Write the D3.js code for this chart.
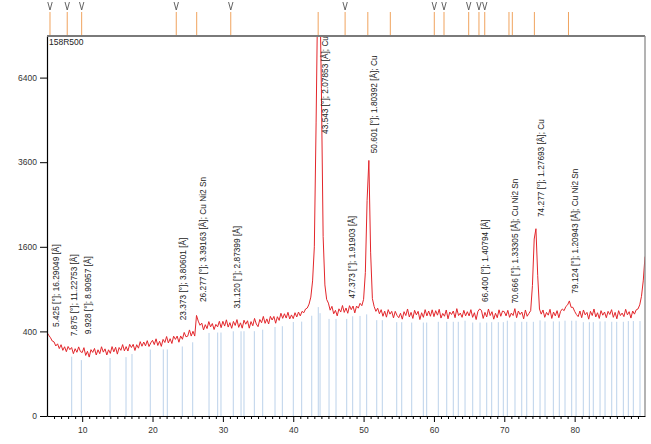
<!DOCTYPE html>
<html lang="en">
<head>
<meta charset="UTF-8">
<title>158R500</title>
<script src="https://d3js.org/d3.v7.min.js"></script>
<style>
  body { margin: 0; background: #fff; font-family: 'Liberation Sans', Arial, sans-serif; }
  svg { display: block; }
  .axis text { font-size: 8.5px; fill: #333; font-family: 'Liberation Sans', Arial, sans-serif; }
  .axis path, .axis line { stroke: #000; }
  .peak-label { font-size: 8.3px; fill: #222; }
</style>
</head>
<body>
<script>
// scan name and measured pattern (2theta from 5 to 90 deg, step 0.25)
const scanName = "158R500";
const scanStart = 5, scanStep = 0.25;
const counts = [
  390, 364, 342, 314, 307, 274, 291, 254, 284, 241, 268, 231, 270, 246, 262, 217, 253, 227, 267, 232,
  225, 261, 205, 234, 194, 246, 226, 255, 208, 245, 217, 268, 228, 252, 208, 245, 219, 269, 230, 264,
  214, 262, 241, 285, 237, 269, 236, 287, 262, 287, 240, 284, 257, 309, 272, 306, 275, 317, 270, 299,
  320, 285, 333, 278, 312, 271, 328, 302, 353, 298, 334, 294, 356, 328, 357, 304, 358, 329, 390, 351,
  356, 414, 357, 401, 357, 565, 503, 460, 482, 414, 466, 427, 498, 444, 478, 418, 469, 444, 501, 436,
  501, 452, 517, 442, 487, 430, 500, 458, 519, 439, 485, 431, 513, 471, 507, 431, 498, 455, 532, 473,
  446, 521, 486, 554, 480, 527, 473, 555, 515, 554, 481, 551, 511, 590, 533, 584, 536, 601, 526, 571,
  530, 596, 548, 604, 560, 612, 596, 640, 652, 700, 790, 1020, 1600, 4800, 10500, 11000, 6000, 1800, 960, 760,
  712, 626, 672, 584, 624, 560, 642, 604, 682, 600, 652, 590, 680, 632, 676, 594, 676, 650, 710, 680,
  760, 1150, 2600, 3650, 1500, 770, 670, 612, 650, 584, 632, 556, 614, 546, 632, 580, 612, 538, 612, 566,
  540, 590, 524, 608, 564, 640, 548, 600, 532, 624, 572, 612, 520, 596, 544, 632, 560, 616, 556, 630,
  552, 620, 568, 636, 536, 588, 556, 628, 528, 604, 576, 616, 540, 644, 564, 592, 544, 624, 560, 608,
  560, 632, 544, 596, 520, 612, 640, 624, 532, 600, 548, 640, 564, 608, 524, 590, 540, 630, 556, 616,
  608, 560, 624, 544, 592, 564, 644, 540, 616, 576, 604, 528, 628, 556, 588, 620, 950, 1750, 1960, 1100,
  640, 580, 628, 544, 600, 568, 636, 532, 604, 560, 620, 540, 612, 640, 620, 670, 690, 740, 660, 660,
  612, 576, 552, 616, 540, 628, 572, 600, 524, 612, 564, 640, 548, 596, 532, 620, 568, 604, 540, 612,
  576, 632, 544, 600, 528, 620, 564, 592, 552, 636, 572, 608, 536, 616, 580, 630, 640, 690, 800, 1020,
  1420
];

// labelled peaks
const peakPos = [5.425, 7.875, 9.928, 23.373, 26.277, 31.120, 43.543, 47.373, 50.601, 66.400, 70.666, 74.277, 79.124];
const peakD = [16.29049, 11.22753, 8.90957, 3.80601, 3.39163, 2.87399, 2.07853, 1.91903, 1.80392, 1.40794, 1.33305, 1.27693, 1.20943];
const peakPhase = ["", "", "", "", "Cu Ni2 Sn", "", "Cu", "", "Cu", "", "Cu Ni2 Sn", "Cu", "Cu Ni2 Sn"];
const peakHeight = [367, 287, 304, 430, 628, 552, 10500, 669, 3627, 628, 609, 2039, 731];

// peak list shown in the strip above the plot (flag = marked with V)
const listPos = [5.425, 7.875, 9.928, 23.373, 26.277, 31.120, 43.543, 47.373, 50.601, 53.80, 60.05, 61.43, 64.94, 66.400, 67.22, 70.666, 71.14, 74.277, 79.124];
const listFlag = [1, 1, 1, 1, 0, 1, 0, 1, 0, 0, 1, 1, 1, 1, 1, 0, 0, 0, 0];

// reference stick pattern
const sticks = [8.51, 9.88, 13.96, 16.23, 17.08, 19.68, 21.53, 22.10, 24.23, 25.71, 28.03, 29.26, 29.73,
  31.48, 32.58, 33.00, 34.47, 35.66, 37.41, 38.45, 40.01, 41.20, 42.63, 43.56, 43.81, 45.09, 46.08,
  47.60, 48.45, 49.49, 50.44, 51.87, 52.66, 54.71, 55.42, 56.84, 58.49, 58.97, 60.62, 61.82, 62.75,
  63.46, 64.42, 65.51, 66.55, 67.50, 68.21, 69.15, 69.86, 70.43, 71.52, 72.48, 73.19, 74.13, 75.08,
  75.79, 76.97, 77.82, 78.63, 79.58, 80.20, 81.23, 82.09, 82.65, 83.61, 84.32, 85.27, 85.98, 86.92,
  87.63, 88.34, 89.29];

const yTicks = [0, 400, 1600, 3600, 6400];

const W = 651, H = 444;
const margin = {top: 36, right: 6, bottom: 28, left: 47};

const svg = d3.select("body").append("svg")
  .attr("width", W).attr("height", H);

const x = d3.scaleLinear().domain([5, 90]).range([margin.left, W - margin.right]);
const y = d3.scaleSqrt().domain([0, 8070]).range([H - margin.bottom, margin.top]);

const pts = counts.map((c, i) => ({t: scanStart + i * scanStep, c: c}));

svg.append("clipPath").attr("id", "plot")
  .append("rect")
  .attr("x", margin.left).attr("y", margin.top)
  .attr("width", W - margin.left - margin.right)
  .attr("height", H - margin.top - margin.bottom);

// stick pattern, reaching up to the local background
const localMin = t => d3.min(pts.filter(p => Math.abs(p.t - t) <= 1.5), p => p.c);
svg.append("g")
  .selectAll("line")
  .data(sticks)
  .join("line")
  .attr("x1", d => x(d)).attr("x2", d => x(d))
  .attr("y1", y(0))
  .attr("y2", d => y(localMin(d)) + 3)
  .attr("stroke", "#bcd2ea")
  .attr("stroke-width", 1);

// measured curve
svg.append("path")
  .datum(pts)
  .attr("clip-path", "url(#plot)")
  .attr("fill", "none")
  .attr("stroke", "#e3262b")
  .attr("stroke-width", 1)
  .attr("d", d3.line().x(d => x(d.t)).y(d => y(d.c)));

// peak labels
const labels = svg.append("g").attr("clip-path", "url(#plot)");
peakPos.forEach((p, i) => {
  let txt = `${p.toFixed(3)} [°]; ${peakD[i].toFixed(5)} [Å]`;
  if (peakPhase[i]) txt += `; ${peakPhase[i]}`;
  const t = labels.append("text")
    .attr("class", "peak-label")
    .text(txt);
  const len = t.node().getComputedTextLength();
  const yb = Math.max(y(peakHeight[i]) - 8, margin.top + len);
  t.attr("transform", `translate(${x(p) + 9.5},${yb}) rotate(-90)`);
});

// axes
const xAxis = svg.append("g")
  .attr("class", "axis")
  .attr("transform", `translate(0,${y(0)})`)
  .call(d3.axisBottom(x).tickValues(d3.range(10, 90, 10)).tickSize(6).tickSizeOuter(0).tickPadding(5));
svg.append("g")
  .attr("class", "axis")
  .attr("transform", `translate(0,${y(0)})`)
  .call(d3.axisBottom(x).tickValues(d3.range(6, 90, 1).filter(v => v % 10)).tickSize(3).tickSizeOuter(0).tickFormat(""))
  .select(".domain").remove();

const yAxis = svg.append("g")
  .attr("class", "axis")
  .attr("transform", `translate(${margin.left},0)`)
  .call(d3.axisLeft(y).tickValues(yTicks).tickFormat(d3.format("d")).tickSize(7).tickSizeOuter(0).tickPadding(3));
yAxis.selectAll(".tick line").attr("stroke", "#777");
yAxis.select(".domain").attr("stroke-width", 1.2);
xAxis.select(".domain").attr("stroke-width", 1.2);

// frame: top and right borders
svg.append("line")
  .attr("x1", margin.left).attr("x2", W - margin.right)
  .attr("y1", margin.top).attr("y2", margin.top)
  .attr("stroke", "#7a7a7a").attr("stroke-width", 2);
svg.append("line")
  .attr("x1", W - margin.right).attr("x2", W - margin.right)
  .attr("y1", margin.top).attr("y2", y(0))
  .attr("stroke", "#8a8a8a").attr("stroke-width", 1.3);

// peak list strip above the plot
svg.append("g")
  .selectAll("line")
  .data(listPos)
  .join("line")
  .attr("x1", d => x(d)).attr("x2", d => x(d))
  .attr("y1", 12).attr("y2", margin.top - 1)
  .attr("stroke", "#f0a35e")
  .attr("stroke-width", 1);
svg.append("g")
  .selectAll("path")
  .data(listPos.filter((d, i) => listFlag[i]))
  .join("path")
  .attr("d", d => `M${x(d) - 2.2},2 L${x(d)},10 L${x(d) + 2.2},2`)
  .attr("fill", "none")
  .attr("stroke", "#555")
  .attr("stroke-width", 0.9);

svg.append("text")
  .attr("x", margin.left + 2).attr("y", margin.top + 8.5)
  .attr("font-size", "8.5px").attr("fill", "#222")
  .text(scanName);
</script>
</body>
</html>
